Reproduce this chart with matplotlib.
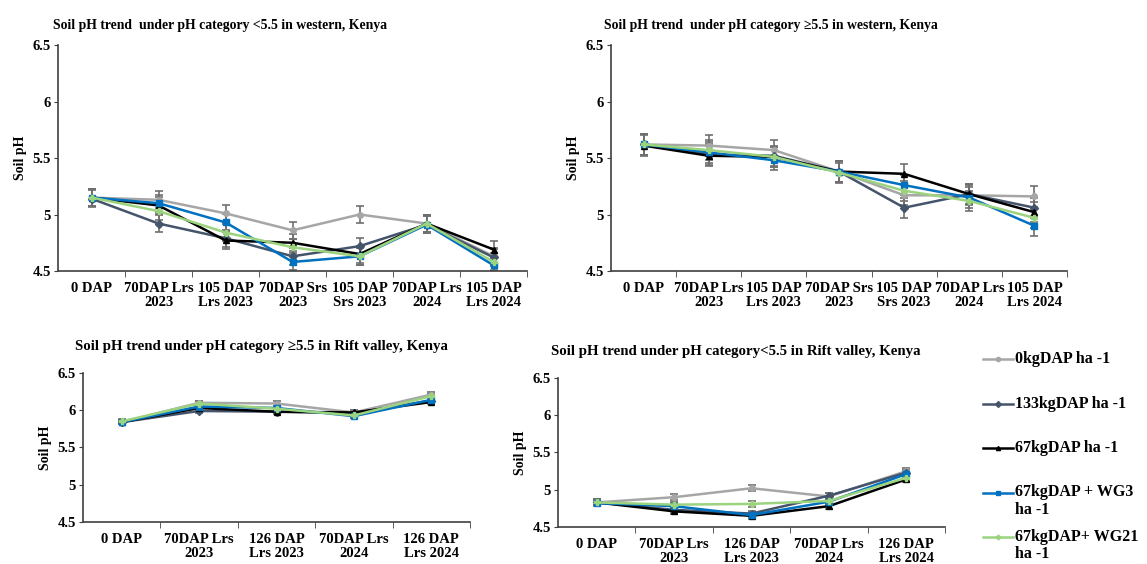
import matplotlib.pyplot as plt
from matplotlib.lines import Line2D
import numpy as np

plt.rcParams['font.family'] = ['Liberation Serif', 'DejaVu Serif']
plt.rcParams['font.weight'] = 'bold'

# treatments
series_names = ['0kgDAP ha -1', '133kgDAP ha -1', '67kgDAP ha -1',
                '67kgDAP + WG3\nha -1', '67kgDAP+ WG21\nha -1']
series_colors = ['#A6A6A6', '#44546A', '#000000', '#0070C0', '#9BD37E']
series_markers = ['o', 'D', '^', 's', 'P']

# sampling times
cats_west = ['0 DAP', '70DAP Lrs\n2023', '105 DAP\nLrs 2023', '70DAP Srs\n2023',
             '105 DAP\nSrs 2023', '70DAP Lrs\n2024', '105 DAP\nLrs 2024']
cats_rift = ['0 DAP', '70DAP Lrs\n2023', '126 DAP\nLrs 2023', '70DAP Lrs\n2024',
             '126 DAP\nLrs 2024']

# western, pH < 5.5
west_lo = [
    [5.15, 5.13, 5.01, 4.86, 5.00, 4.92, 4.63],
    [5.14, 4.92, 4.79, 4.63, 4.72, 4.91, 4.62],
    [5.15, 5.08, 4.77, 4.75, 4.65, 4.92, 4.69],
    [5.15, 5.10, 4.93, 4.58, 4.63, 4.91, 4.55],
    [5.15, 5.03, 4.84, 4.71, 4.63, 4.92, 4.58],
]
# western, pH >= 5.5
west_hi = [
    [5.62, 5.61, 5.57, 5.38, 5.17, 5.17, 5.16],
    [5.62, 5.53, 5.52, 5.38, 5.06, 5.18, 5.06],
    [5.61, 5.52, 5.51, 5.38, 5.36, 5.18, 5.02],
    [5.62, 5.55, 5.48, 5.38, 5.26, 5.15, 4.90],
    [5.62, 5.57, 5.51, 5.37, 5.21, 5.12, 4.97],
]
# Rift valley, pH >= 5.5
rift_hi = [
    [5.84, 6.10, 6.09, 5.97, 6.21],
    [5.84, 5.99, 5.98, 5.96, 6.13],
    [5.84, 6.03, 5.98, 5.97, 6.11],
    [5.84, 6.05, 6.03, 5.92, 6.14],
    [5.85, 6.09, 6.02, 5.93, 6.19],
]
# Rift valley, pH < 5.5
rift_lo = [
    [4.83, 4.90, 5.02, 4.91, 5.25],
    [4.83, 4.73, 4.68, 4.92, 5.23],
    [4.83, 4.71, 4.65, 4.78, 5.14],
    [4.82, 4.78, 4.66, 4.84, 5.21],
    [4.83, 4.80, 4.81, 4.85, 5.16],
]
# standard errors per panel
err_west_lo = 0.075
err_west_hi = 0.09
err_rift_hi = 0.03
err_rift_lo = 0.04

titles = ['Soil pH trend  under pH category <5.5 in western, Kenya',
          'Soil pH trend  under pH category \u22655.5 in western, Kenya',
          'Soil pH trend under pH category \u22655.5 in Rift valley, Kenya',
          'Soil pH trend under pH category<5.5 in Rift valley, Kenya']

fig = plt.figure(figsize=(11.47, 5.64), dpi=100)

panels = [
    # axes rect, categories, data, error, title position, title size
    ([0.0506, 0.5195, 0.409, 0.4007], cats_west, west_lo, err_west_lo, (0.046, 0.955), 9.9),
    ([0.5327, 0.5195, 0.3976, 0.4007], cats_west, west_hi, err_west_hi, (0.527, 0.955), 9.9),
    ([0.0724, 0.0745, 0.3374, 0.2642], cats_rift, rift_hi, err_rift_hi, (0.065, 0.385), 10.7),
    ([0.4865, 0.0656, 0.3374, 0.2642], cats_rift, rift_lo, err_rift_lo, (0.480, 0.376), 10.7),
]

for (rect, cats, data, err, tpos, tsize), title in zip(panels, titles):
    ax = fig.add_axes(rect)
    x = np.arange(len(cats))
    for vals, col, mk in zip(data, series_colors, series_markers):
        ax.errorbar(x, vals, yerr=err, color=col, lw=1.8, marker=mk, ms=4,
                    ecolor='#6f6f6f', elinewidth=1.2, capsize=3, capthick=1.2)
    ax.set_xlim(-0.5, len(cats) - 0.5)
    ax.set_ylim(4.5, 6.5)
    ax.set_yticks([4.5, 5, 5.5, 6, 6.5])
    ax.set_yticklabels(['4.5', '5', '5.5', '6', '6.5'])
    ax.set_xticks(x)
    ax.set_xticklabels(cats, linespacing=1.05)
    ax.set_xticks(np.arange(len(cats)) + 0.5, minor=True)
    ax.tick_params(axis='x', which='major', length=0, pad=8, labelsize=10.5)
    ax.tick_params(axis='x', which='minor', length=4, direction='out', color='#404040')
    ax.tick_params(axis='y', length=3, direction='out', color='#404040', labelsize=10.5, pad=2)
    for s in ['top', 'right']:
        ax.spines[s].set_visible(False)
    for s in ['left', 'bottom']:
        ax.spines[s].set_color('#404040')
        ax.spines[s].set_linewidth(1.2)
    ax.set_ylabel('Soil pH', fontsize=10, fontweight='bold', labelpad=4)
    fig.text(tpos[0], tpos[1], title, fontsize=tsize, fontweight='bold',
             ha='left', va='center')

# legend: one row per treatment, wrapped names continue below the first line
W, H = fig.get_size_inches() * fig.dpi
row_y = 359
for name, col, mk in zip(series_names, series_colors, series_markers):
    yf = 1 - row_y / H
    fig.add_artist(Line2D([983 / W, 1013 / W], [yf, yf], color=col, lw=1.8,
                          transform=fig.transFigure))
    fig.add_artist(Line2D([998 / W], [yf], color=col, marker=mk, ms=3,
                          transform=fig.transFigure))
    for k, line in enumerate(name.split('\n')):
        fig.text(1015 / W, 1 - (row_y + 17 * k) / H, line, fontsize=11.5,
                 fontweight='bold', ha='left', va='center')
    row_y += 44.5

fig.savefig('out.png', dpi=100)
